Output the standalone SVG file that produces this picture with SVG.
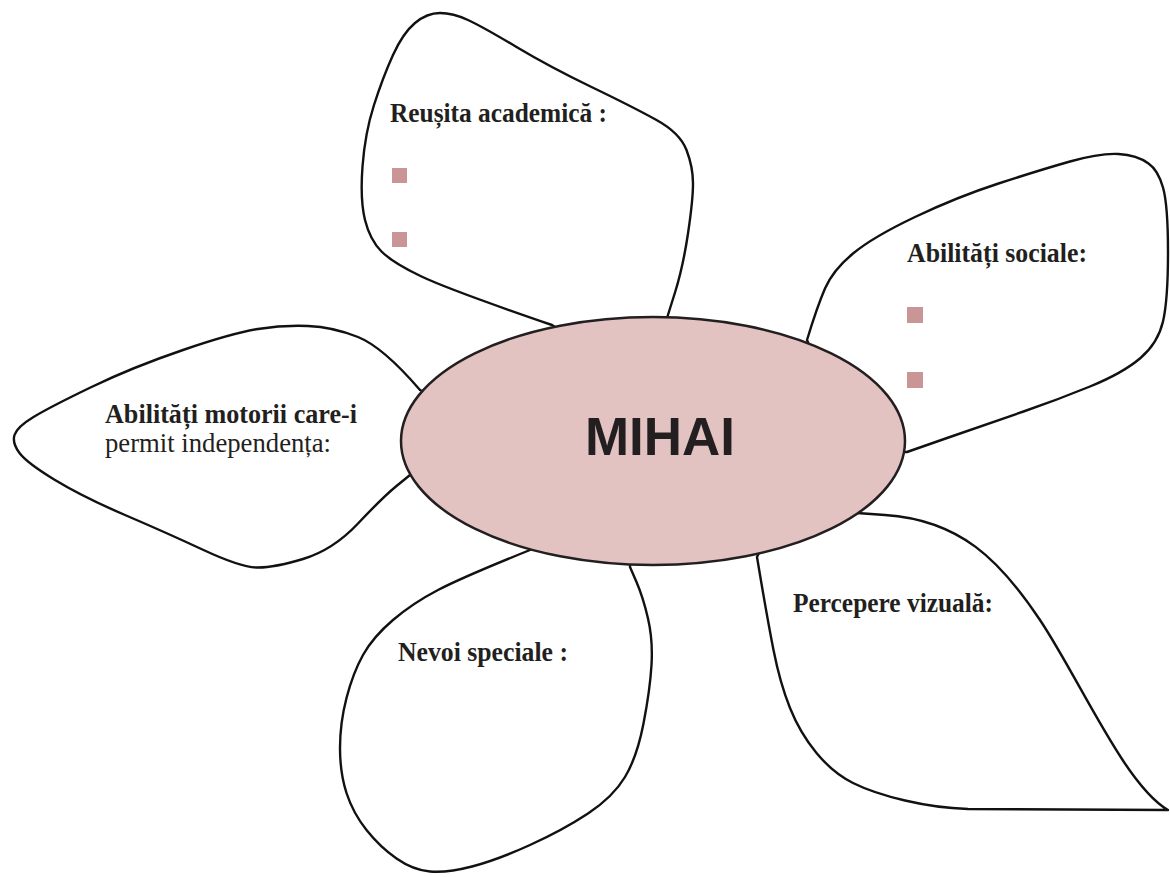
<svg xmlns="http://www.w3.org/2000/svg" width="1170" height="877" viewBox="0 0 1170 877">
<style>
.petal{fill:#ffffff;stroke:#111111;stroke-width:2.4;stroke-linejoin:round}
.lbl{font-family:"Liberation Serif","Times New Roman",serif;font-size:28px;font-weight:bold;fill:#231f20}
.reg{font-family:"Liberation Serif","Times New Roman",serif;font-size:28px;font-weight:normal;fill:#231f20}
.bul{fill:#c99597}
.center{fill:#e2c3c2;stroke:#231f20;stroke-width:2.5}
.title{font-family:"Liberation Sans",Arial,sans-serif;font-size:53px;font-weight:bold;fill:#231f20}
</style>
<rect width="1170" height="877" fill="#ffffff"/>
<g id="connectors"></g>
<g id="petal-academic">
<path class="petal" d="M 575,340 L 552,325 Q 450,290 421.5,276.5 Q 393,263 381.5,251.5 Q 370,240 365,220 Q 360,200 362.5,166.5 Q 365,133 374,105 Q 383,77 393,55 Q 403,33 415,23 Q 427,13 440,13 Q 453,13 468,20 Q 483,27 516.5,47 Q 550,67 591.5,87 Q 633,107 656.5,120 Q 680,133 686.5,150 Q 693,167 693,183.5 Q 693,200 688,233.5 Q 683,267 675,292.5 L 667,318 L 662,345 Z"/>
<text class="lbl" x="390" y="122" textLength="217" lengthAdjust="spacingAndGlyphs">Reușita academică :</text>
<rect class="bul" x="392" y="168" width="15" height="15"/>
<rect class="bul" x="392" y="232" width="15" height="15"/>
</g>
<g id="petal-social">
<path class="petal" d="M 820,370 L 807,340 Q 817,307 825,288.5 Q 833,270 853,253.5 Q 873,237 915,217 Q 957,197 998.5,183.5 Q 1040,170 1070,161.5 Q 1100,153 1118.5,154 Q 1137,155 1148.5,163.5 Q 1158,170 1163,187.5 Q 1168,205 1168,252.5 Q 1168,300 1163,321.5 Q 1158,343 1140.5,358 Q 1123,373 1090,386.5 Q 1057,400 1023.5,411.5 Q 990,423 948.5,437.5 L 907,452 L 880,452 Z"/>
<text class="lbl" x="907" y="262" textLength="180" lengthAdjust="spacingAndGlyphs">Abilități sociale:</text>
<rect class="bul" x="907" y="307" width="16" height="16"/>
<rect class="bul" x="907" y="372" width="16" height="16"/>
</g>
<g id="petal-motor">
<path class="petal" d="M 440,400 L 420,390 Q 383,347 358,337 Q 333,327 308,326 Q 283,325 258,329 Q 233,333 183,350 Q 133,367 91.5,387 Q 50,407 33.5,417 Q 17,427 14.5,435 Q 12,443 19.5,453 Q 27,463 55,480 Q 83,497 125,515 Q 167,533 203.5,550 Q 240,567 256.5,567.5 Q 273,568 303,559 Q 333,550 358,523.5 Q 383,497 396.5,486 L 410,475 L 440,475 Z"/>
<text class="lbl" x="105" y="423" textLength="252" lengthAdjust="spacingAndGlyphs">Abilități motorii care-i</text>
<text class="reg" x="105" y="452" textLength="226" lengthAdjust="spacingAndGlyphs">permit independența:</text>
</g>
<g id="petal-special">
<path class="petal" d="M 545,530 L 530,550 Q 463,577 438,590 Q 413,603 393,620 Q 373,637 363,655 Q 353,673 346.5,698 Q 340,723 340,748 Q 340,773 346.5,793 Q 353,813 366.5,830 Q 380,847 396.5,858.5 Q 413,870 430,871.5 Q 447,873 472,866.5 Q 497,860 530,845 Q 563,830 588,813.5 Q 613,797 625,777 Q 637,757 643.5,723.5 Q 650,690 651.5,665 Q 653,640 648,618.5 Q 643,597 636.5,582 L 630,567 L 630,530 Z"/>
<text class="lbl" x="398" y="661" textLength="170" lengthAdjust="spacingAndGlyphs">Nevoi speciale :</text>
</g>
<g id="petal-visual">
<path class="petal" d="M 770,530 L 757,557 Q 767,617 773.5,650 Q 780,683 790,708 Q 800,733 816.5,753 Q 833,773 853,783 Q 873,793 905,800.5 Q 937,808 968,809 L 1168,810 C 1125,785 1080,680 1040,620 C 1000,560 960,520 885,515 L 857,513 L 840,500 Z"/>
<text class="lbl" x="793" y="612" textLength="200" lengthAdjust="spacingAndGlyphs">Percepere vizuală:</text>
</g>
<g id="center-mihai">
<ellipse class="center" cx="653" cy="441" rx="252" ry="124"/>
<text class="title" x="660" y="455" text-anchor="middle" textLength="150" lengthAdjust="spacingAndGlyphs">MIHAI</text>
</g>
</svg>
